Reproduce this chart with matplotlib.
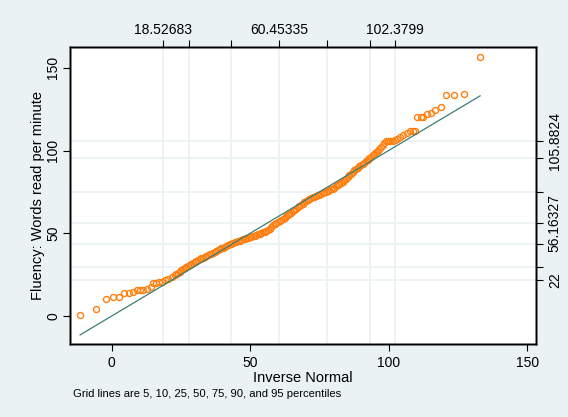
import matplotlib.pyplot as plt

plt.rcParams['font.family'] = ['Liberation Sans', 'DejaVu Sans']

# quantile pairs: inverse normal (x) vs sorted fluency (y)
inv_normal = [
    -11.4, -5.8, -2.1, 0.6, 2.7, 4.5, 6.1, 7.6, 9.0, 10.2, 11.4, 12.9, 14.1,
    15.0, 16.0, 17.0, 18.1, 19.2, 20.4, 21.7, 22.9,
    23.4, 24.0, 24.6, 25.2, 25.8, 26.4, 27.0, 27.6, 28.2, 28.8, 29.4, 30.0,
    30.6, 31.2, 31.8, 32.4, 33.0, 33.6, 34.2, 34.8, 35.4, 36.0, 36.6, 37.2,
    37.8, 38.4, 39.0, 39.6, 40.2, 40.8, 41.4, 42.0, 42.6, 43.2, 43.8, 44.4,
    45.0, 45.6, 46.2, 46.8, 47.4, 48.0, 48.6, 49.2, 49.8, 50.4, 51.0, 51.6,
    52.2, 52.8, 53.4, 54.0, 54.6, 55.2, 55.8, 56.4, 57.0, 57.6, 58.2, 58.8,
    59.4, 60.0, 60.6, 61.2, 61.8, 62.4, 63.0, 63.6, 64.2, 64.8, 65.4, 66.0,
    66.6, 67.2, 67.8, 68.4, 69.0, 69.6, 70.2, 70.8, 71.4, 72.0, 72.6, 73.2,
    73.8, 74.4, 75.0, 75.6, 76.2, 76.8, 77.4, 78.0, 78.6, 79.2, 79.8, 80.4,
    81.0, 81.6, 82.2, 82.8, 83.4, 84.0, 84.6, 85.2, 85.8, 86.4, 87.0, 87.6,
    88.2, 88.8, 89.4, 90.0, 90.6, 91.2, 91.8, 92.4, 93.0, 93.6, 94.2,
    94.8, 95.4, 96.0, 96.6, 97.2, 97.8, 98.4, 99.0, 99.8, 100.6, 101.4, 102.2,
    103.0, 104.1, 105.3, 106.5, 107.7, 108.7, 109.6,
    110.3, 111.5, 112.5, 113.7, 115.2, 116.8, 118.8, 120.7, 123.6, 127.2,
    133.0,
]
fluency = [
    0.6, 4.4, 10.5, 11.7, 11.7, 13.7, 13.7, 14.7, 15.7, 15.7, 15.7, 16.5, 17.3,
    19.7, 20.1, 20.5, 20.7, 21.7, 22.5, 23.4, 24.6,
    25.4, 25.8, 26.6, 27.6, 28.6, 29.2, 29.8, 30.4, 31.0, 31.6, 32.1, 32.6,
    33.0, 33.6, 34.2, 34.8, 35.3, 35.8, 36.2, 36.8, 37.2, 37.6, 38.1, 38.6,
    39.2, 39.8, 40.4, 40.9, 41.4, 42.0, 42.5, 42.9, 43.4, 43.8, 44.2, 44.6,
    44.9, 45.2, 45.6, 45.9, 46.3, 46.6, 46.9, 47.2, 47.5, 47.8, 48.3, 48.6,
    49.0, 49.3, 49.7, 50.1, 50.6, 51.0, 51.4, 51.9, 52.5, 53.6, 54.8, 55.6,
    56.2, 56.8, 57.6, 58.2, 58.8, 59.4, 60.2, 60.9, 61.6, 62.4, 63.2, 64.0,
    64.8, 65.6, 66.4, 67.2, 67.9, 68.6, 69.4, 70.2, 70.8, 71.4, 71.8, 72.2,
    72.6, 73.0, 73.4, 73.8, 74.3, 74.7, 75.1, 75.6, 76.1, 76.6, 77.0, 77.6,
    78.3, 79.0, 79.7, 80.4, 81.0, 82.0, 83.0, 84.0, 85.0, 86.0, 87.0, 88.0,
    88.8, 89.6, 90.4, 91.2, 91.8, 92.6, 93.4, 94.4, 95.2, 96.2, 97.0,
    97.8, 98.8, 99.8, 100.8, 102.0, 103.4, 104.6, 105.6, 105.9, 105.9, 105.9,
    106.2, 106.7, 107.9, 109.3, 110.7, 111.9, 111.9, 111.9,
    120.0, 120.0, 120.0, 122.0, 122.4, 124.4, 126.0, 133.7, 133.7, 134.1,
    156.6,
]

# 5, 10, 25, 50, 75, 90, 95 percentiles
x_pct = [18.52683, 27.79, 43.26, 60.45335, 77.64, 93.11, 102.3799]
y_pct = [22, 29.8, 43.3, 56.16327, 74.7, 95.4, 105.8824]
x_pct_labels = ['18.52683', '', '', '60.45335', '', '', '102.3799']
y_pct_labels = ['22', '', '', '56.16327', '', '', '105.8824']

bg = '#eaf2f3'
fig = plt.figure(figsize=(5.68, 4.17), dpi=100, facecolor=bg)
ax = fig.add_axes([0.1232, 0.175, 0.8205, 0.713])
ax.set_facecolor('white')

for xv in x_pct:
    ax.axvline(xv, color=bg, lw=1.3, zorder=0)
for yv in y_pct:
    ax.axhline(yv, color=bg, lw=1.3, zorder=0)

ax.plot(inv_normal, fluency, 'o', mfc='none', mec='#ff7f0e', ms=4.3, mew=1.0,
        zorder=3)
lo, hi = min(inv_normal), max(inv_normal)
ax.plot([lo, hi], [lo, hi], color='#3b7d74', lw=0.9, zorder=4)

ax.set_xlim(-15.05, 153.2)
ax.set_ylim(-16.9, 162.7)
ax.set_xticks([0, 50, 100, 150])
ax.set_yticks([0, 50, 100, 150])
ax.tick_params(direction='out', length=5, width=0.8, labelsize=10)
ax.tick_params(axis='y', pad=2)
for lab in ax.get_yticklabels():
    lab.set_rotation(90)
    lab.set_va('center')
ax.set_xlabel('Inverse Normal', fontsize=10.5, labelpad=1)
ax.set_ylabel('Fluency: Words read per minute', fontsize=10.5, labelpad=1)

# percentile axes on top and right
axt = ax.twiny()
axt.set_xlim(ax.get_xlim())
axt.set_xticks(x_pct)
axt.set_xticklabels(x_pct_labels)
axt.tick_params(direction='out', length=5, width=0.8, labelsize=10, pad=2)

axr = ax.twinx()
axr.set_ylim(ax.get_ylim())
axr.set_yticks(y_pct)
axr.set_yticklabels(y_pct_labels, rotation=90, va='center')
axr.tick_params(direction='out', length=5, width=0.8, labelsize=10)

for a in (ax, axt, axr):
    for s in a.spines.values():
        s.set_linewidth(1.0)
        s.set_color('black')

fig.text(0.1285, 0.055, 'Grid lines are 5, 10, 25, 50, 75, 90, and 95 percentiles',
         fontsize=8.1, va='center')

fig.savefig('out.png', dpi=100, facecolor=bg)
